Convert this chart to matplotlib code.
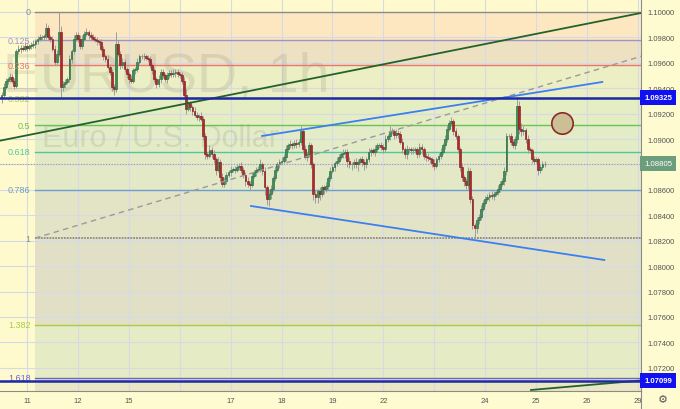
import matplotlib
matplotlib.use('Agg')
import matplotlib.pyplot as plt
import matplotlib.transforms as mtransforms
from matplotlib.lines import Line2D

# ---------------- data ----------------
day_pos = [0, 1, 2, 3, 4, 5, 6, 7, 8, 9, 10, 11, 12]
day_labels = ['11', '12', '15', '', '17', '18', '19', '22', '', '24', '25', '26', '29']

price_ticks = [1.072, 1.074, 1.076, 1.078, 1.080, 1.082, 1.084, 1.086,
               1.088, 1.090, 1.092, 1.094, 1.096, 1.098, 1.100]
price_tick_labels = ['1.07200', '1.07400', '1.07600', '1.07800', '1.08000', '1.08200',
                     '1.08400', '1.08600', '', '1.09000', '1.09200', '1.09400',
                     '1.09600', '1.09800', '1.10000']

bar_start_day = -0.5      # first hourly candle (day index)
bars_per_day = 24
first_open = 1.0932
closes = [
    1.0935, 1.0941, 1.0946, 1.0947, 1.0949, 1.0946, 1.0942, 1.0969, 1.0971, 1.0972,
    1.0971, 1.0973, 1.0972, 1.0973, 1.0974, 1.0975, 1.0977, 1.0979, 1.0980, 1.0980,
    1.0981, 1.0987, 1.0980, 1.0979, 1.0971, 1.0961, 1.0967, 1.0984, 1.0941, 1.0943,
    1.0945, 1.0947, 1.0963, 1.0969, 1.0979, 1.0982, 1.0979, 1.0973, 1.0979, 1.0983,
    1.0984, 1.0982, 1.0980, 1.0979, 1.0978, 1.0977, 1.0976, 1.0971, 1.0965, 1.0963,
    1.0957, 1.0953, 1.0941, 1.0939, 1.0975, 1.0967, 1.0958, 1.0961, 1.0955, 1.0951,
    1.0947, 1.0946, 1.0954, 1.0955, 1.0961, 1.0965, 1.0965, 1.0965, 1.0964, 1.0963,
    1.0958, 1.0954, 1.0947, 1.0943, 1.0947, 1.0953, 1.0950, 1.0947, 1.0950, 1.0952,
    1.0951, 1.0952, 1.0953, 1.0951, 1.0950, 1.0946, 1.0935, 1.0924, 1.0928, 1.0925,
    1.0922, 1.0919, 1.0917, 1.0918, 1.0916, 1.0902, 1.0888, 1.0887, 1.0891, 1.0888,
    1.0884, 1.0876, 1.0882, 1.0870, 1.0865, 1.0867, 1.0872, 1.0874, 1.0876, 1.0876,
    1.0876, 1.0878, 1.0879, 1.0876, 1.0872, 1.0867, 1.0865, 1.0864, 1.0871, 1.0874,
    1.0876, 1.0876, 1.0880, 1.0875, 1.0862, 1.0853, 1.0857, 1.0861, 1.0869, 1.0876,
    1.0880, 1.0882, 1.0883, 1.0886, 1.0892, 1.0895, 1.0896, 1.0895, 1.0897, 1.0896,
    1.0898, 1.0906, 1.0892, 1.0886, 1.0888, 1.0895, 1.0880, 1.0857, 1.0854, 1.0859,
    1.0857, 1.0862, 1.0861, 1.0863, 1.0869, 1.0875, 1.0878, 1.0881, 1.0883, 1.0886,
    1.0888, 1.0889, 1.0890, 1.0883, 1.0880, 1.0880, 1.0882, 1.0880, 1.0882, 1.0884,
    1.0882, 1.0880, 1.0884, 1.0890, 1.0891, 1.0890, 1.0892, 1.0895, 1.0895, 1.0894,
    1.0892, 1.0900, 1.0902, 1.0906, 1.0906, 1.0903, 1.0905, 1.0904, 1.0898, 1.0892,
    1.0888, 1.0892, 1.0892, 1.0891, 1.0891, 1.0892, 1.0888, 1.0894, 1.0892, 1.0887,
    1.0886, 1.0885, 1.0884, 1.0881, 1.0879, 1.0884, 1.0887, 1.0890, 1.0895, 1.0900,
    1.0908, 1.0913, 1.0914, 1.0906, 1.0902, 1.0892, 1.0878, 1.0870, 1.0867, 1.0864,
    1.0875, 1.0853, 1.0832, 1.0830, 1.0836, 1.0839, 1.0845, 1.0850, 1.0853, 1.0854,
    1.0856, 1.0855, 1.0857, 1.0858, 1.0861, 1.0865, 1.0867, 1.0875, 1.0902, 1.0902,
    1.0898, 1.0895, 1.0900, 1.0926, 1.0908, 1.0906, 1.0907, 1.0900, 1.0892, 1.0891,
    1.0884, 1.0883, 1.0884, 1.0876, 1.0878, 1.0880, 1.08805]
upper_wick_pips = [
    2, 3, 2, 2, 3, 2, 2, 2, 3, 2,
    2, 3, 2, 2, 2, 3, 2, 2, 3, 2,
    2, 4, 3, 2, 2, 3, 3, 16, 5, 3,
    2, 2, 3, 2, 3, 2, 2, 3, 3, 2,
    3, 2, 2, 3, 2, 2, 2, 3, 2, 2,
    3, 2, 2, 2, 9, 3, 2, 3, 2, 2,
    2, 3, 2, 2, 3, 2, 2, 3, 2, 2,
    2, 2, 3, 2, 3, 2, 2, 2, 3, 2,
    2, 3, 2, 2, 2, 3, 3, 4, 2, 2,
    2, 3, 2, 2, 3, 2, 3, 2, 4, 3,
    3, 2, 4, 2, 3, 3, 2, 2, 3, 2,
    3, 2, 2, 3, 2, 2, 3, 2, 3, 2,
    2, 3, 4, 2, 3, 2, 3, 3, 2, 3,
    2, 2, 3, 2, 3, 2, 3, 2, 2, 3,
    2, 4, 2, 3, 2, 3, 2, 2, 3, 2,
    3, 2, 2, 3, 2, 3, 2, 2, 3, 2,
    2, 3, 2, 2, 3, 2, 2, 3, 2, 2,
    3, 2, 2, 3, 2, 2, 3, 2, 2, 3,
    2, 3, 2, 4, 3, 2, 3, 2, 2, 3,
    2, 3, 2, 2, 3, 2, 2, 3, 2, 2,
    2, 3, 2, 2, 3, 2, 2, 3, 2, 3,
    3, 2, 3, 2, 3, 2, 2, 3, 2, 2,
    3, 2, 2, 2, 3, 2, 3, 2, 2, 3,
    2, 3, 2, 2, 3, 2, 2, 3, 3, 2,
    3, 2, 2, 6, 4, 5, 3, 2, 3, 2,
    2, 3, 2, 2, 2, 3, 2]
lower_wick_pips = [
    4, 3, 2, 3, 2, 2, 3, 2, 2, 3,
    2, 2, 3, 2, 2, 2, 3, 2, 2, 2,
    2, 2, 2, 3, 2, 3, 3, 2, 8, 3,
    3, 2, 2, 3, 2, 2, 3, 2, 2, 2,
    2, 3, 2, 2, 2, 3, 2, 2, 3, 2,
    2, 3, 3, 4, 2, 2, 3, 2, 2, 3,
    3, 2, 2, 3, 2, 2, 2, 3, 2, 2,
    2, 3, 2, 3, 2, 3, 2, 2, 3, 2,
    2, 2, 3, 2, 2, 3, 3, 4, 2, 3,
    3, 2, 2, 3, 2, 3, 4, 3, 2, 3,
    3, 4, 2, 4, 3, 3, 2, 2, 3, 2,
    3, 2, 2, 3, 3, 4, 3, 4, 2, 2,
    3, 2, 2, 3, 6, 5, 6, 4, 3, 2,
    2, 3, 2, 2, 3, 2, 2, 3, 2, 3,
    2, 3, 3, 2, 3, 2, 3, 5, 4, 4,
    5, 3, 4, 3, 3, 2, 2, 3, 2, 2,
    2, 3, 4, 5, 3, 4, 3, 3, 5, 2,
    3, 4, 3, 2, 3, 2, 3, 2, 2, 3,
    3, 2, 2, 3, 2, 3, 2, 3, 2, 3,
    3, 4, 2, 3, 3, 2, 3, 2, 4, 3,
    3, 2, 3, 3, 3, 2, 2, 3, 2, 3,
    2, 2, 3, 3, 2, 3, 3, 3, 4, 3,
    3, 3, 3, 8, 4, 3, 3, 2, 3, 2,
    3, 2, 3, 2, 2, 3, 2, 3, 3, 2,
    3, 2, 3, 3, 4, 4, 3, 3, 3, 2,
    3, 3, 2, 4, 3, 2, 2]

fib_high = 1.1000
fib_low = 1.0822
fib_start_day = 0.157
fib_levels = [0, 0.125, 0.236, 0.382, 0.5, 0.618, 0.786, 1, 1.382, 1.618]
fib_labels = ['0', '0.125', '0.236', '0.382', '0.5', '0.618', '0.786', '1', '1.382', '1.618']
fib_line_colors = ['#8c8c8c', '#a093c8', '#e8776c', '#b4cc48', '#6cc25a',
                   '#4cc99a', '#6aa0cc', '#8c8c8c', '#a8cc48', '#6666d0']
fib_zone_colors = ['#fde7c0', '#ede1c2', '#eceec3', '#e5edc3', '#e3ecc6',
                   '#e3e8c6', '#e3e4c5', '#e1e0c7', '#e5ebc4', '#ebe6c3']

marked_levels = [1.09325, 1.07099]
marked_labels = ['1.09325', '1.07099']
last_price = 1.08805
last_label = '1.08805'

dark_green_up_x = [-0.53, 12.06]
dark_green_up_y = [1.08987, 1.09992]
dark_green_low_x = [9.90, 12.06]
dark_green_low_y = [1.07025, 1.07100]
blue_upper_x = [4.617, 11.30]
blue_upper_y = [1.09024, 1.09449]
blue_lower_x = [4.40, 11.34]
blue_lower_y = [1.08473, 1.08048]
fib_diag_x = [0.157, 12.08]
fib_diag_y = [1.0822, 1.09653]
circle_x = 10.51
circle_y = 1.09126

# ---------------- figure ----------------
W, H = 680, 410
fig = plt.figure(figsize=(W / 100, H / 100), dpi=100)
fig.patch.set_facecolor('#fffbd0')
ax = fig.add_axes([0, 18 / H, 641 / W, 392 / H])
ax.set_facecolor('#fffacd')
x_left, x_right = -0.53, 12.06
ax.set_xlim(x_left, x_right)
ax.set_ylim(1.07017, 1.10102)

font = ['Liberation Sans', 'DejaVu Sans']

# fib zones
fib_prices = [fib_high - l * (fib_high - fib_low) for l in fib_levels]
bottom_edge = 1.06
for i, col in enumerate(fib_zone_colors):
    top = fib_prices[i]
    bot = fib_prices[i + 1] if i + 1 < len(fib_prices) else bottom_edge
    ax.fill_between([fib_start_day, x_right + 1], bot, top, color=col, lw=0, zorder=0.5)

# grid
for p in price_ticks:
    ax.axhline(p, color='#d6dae6', lw=0.8, zorder=0.8)
for d in day_pos:
    ax.axvline(d, color='#d6dae6', lw=0.8, zorder=0.8)

# watermark
ax.text(3 / W, (H - 92) / H, 'EURUSD, 1h', transform=fig.transFigure, fontsize=40,
        family=font, color='#8c8c78', alpha=0.2, ha='left', va='baseline', zorder=0.9)
ax.text(42 / W, (H - 147) / H, 'Euro / U.S. Dollar', transform=fig.transFigure, fontsize=22,
        family=font, color='#8c8c78', alpha=0.2, ha='left', va='baseline', zorder=0.9)

# fib lines and labels
for lvl, p, lab, col in zip(fib_levels, fib_prices, fib_labels, fib_line_colors):
    if lvl == 1:
        ax.plot([fib_start_day, x_right + 1], [p, p], color='#8a8a8a', lw=1.3,
                ls=(0, (1, 0.6)), zorder=1)
    else:
        ax.plot([fib_start_day, x_right + 1], [p, p], color=col, lw=1.0, zorder=1)
    ax.text(0.07, p, lab, color=col, fontsize=6.5, family=font, ha='right', va='center', zorder=3)

# last price dotted line
ax.axhline(last_price, color='#9a9a9a', lw=0.8, ls=(0, (1, 1.5)), zorder=1.2)

# candles
n = len(closes)
opens = [first_open] + closes[:-1]
xs = [bar_start_day + i / bars_per_day for i in range(n)]
highs = [max(o, c) + u * 0.0001 for o, c, u in zip(opens, closes, upper_wick_pips)]
lows = [min(o, c) - l * 0.0001 for o, c, l in zip(opens, closes, lower_wick_pips)]
ax.vlines(xs, lows, highs, color='#9c9c9c', lw=0.7, zorder=2)
bw = 0.85 / bars_per_day
for x, o, c in zip(xs, opens, closes):
    up = c >= o
    h = c - o
    if abs(h) < 0.00005:
        h = 0.00005 if up else -0.00005
    ax.bar(x, h, bottom=o, width=bw, color='#3d8f58' if up else '#b02a2a',
           edgecolor='#2a6a40' if up else '#861c1c', lw=0.45, zorder=2.2)

# trend lines
ax.plot(fib_diag_x, fib_diag_y, color='#9a9a9a', lw=1.0, ls=(0, (4, 3)), zorder=2.5)
ax.plot(dark_green_up_x, dark_green_up_y, color='#23632a', lw=1.3, zorder=3)
ax.plot(dark_green_low_x, dark_green_low_y, color='#23632a', lw=1.3, zorder=3)
ax.plot(blue_upper_x, blue_upper_y, color='#3b7ff0', lw=1.3, zorder=3)
ax.plot(blue_lower_x, blue_lower_y, color='#3b7ff0', lw=1.3, zorder=3)

# marked horizontal levels
for p in marked_levels:
    ax.axhline(p, color='#1c2aa6', lw=1.8, zorder=3.2)

# circle
ax.plot([circle_x], [circle_y], 'o', ms=15.4, mfc='#cdbf95', mec='#8a2a2a', mew=1.2, zorder=3.5)

# axes styling
for s in ['top', 'left']:
    ax.spines[s].set_visible(False)
ax.spines['right'].set_color('#8a8a8a')
ax.spines['bottom'].set_color('#8a8a8a')
ax.yaxis.tick_right()
ax.set_yticks(price_ticks)
ax.set_yticklabels(price_tick_labels, fontsize=5.5, family=font, color='#555555')
ax.set_xticks(day_pos)
ax.set_xticklabels(day_labels, fontsize=5.5, family=font, color='#555555')
ax.tick_params(axis='y', length=0, pad=5)
ax.tick_params(axis='x', length=0, pad=4)

# price boxes on the right axis
blend = mtransforms.blended_transform_factory(ax.transAxes, ax.transData)
for p, lab in zip(marked_levels, marked_labels):
    ax.text(1.005, p, lab, transform=blend, fontsize=5.6, family=font, weight='bold',
            color='white', ha='left', va='center', clip_on=False, zorder=5,
            bbox=dict(boxstyle='square,pad=0.5', fc='#1010f0', ec='none'))
ax.text(1.005, last_price, last_label, transform=blend, fontsize=5.6, family=font,
        color='white', ha='left', va='center', clip_on=False, zorder=5,
        bbox=dict(boxstyle='square,pad=0.5', fc='#6c9e7e', ec='none'))

# right separator extending to the bottom
fig.add_artist(Line2D([641 / W, 641 / W], [0, 18 / H], color='#8a8a8a', lw=0.8))
fig.text(663 / W, 10 / H, '\u2699', fontsize=8, color='#555555', ha='center', va='center',
         family=['DejaVu Sans'])

fig.savefig('out.png', dpi=100, facecolor=fig.get_facecolor())
